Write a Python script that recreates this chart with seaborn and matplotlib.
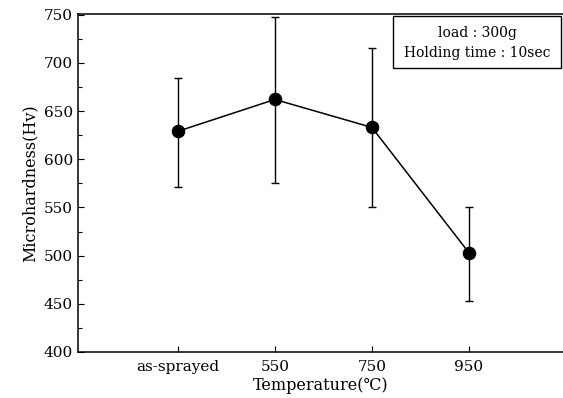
import matplotlib
matplotlib.use("Agg")
import matplotlib.pyplot as plt
import seaborn as sns
import numpy as np
import pandas as pd
from matplotlib.ticker import MultipleLocator
from matplotlib.patches import Rectangle

categories = ["as-sprayed", "550", "750", "950"]
hardness = [629, 662, 633, 503]
upper = [684, 748, 715, 550]
lower = [571, 575, 550, 453]

sns.set_style("ticks")
plt.rcParams['font.family'] = ['DejaVu Serif', 'DejaVu Sans']
plt.rcParams['text.color'] = 'black'
plt.rcParams['axes.labelcolor'] = 'black'

fig = plt.figure(figsize=(5.63, 3.98), dpi=100)
ax = fig.add_axes([0.1385, 0.1156, 0.8615, 0.85])

pos = np.arange(len(categories))
df = pd.DataFrame({"pos": pos, "hv": hardness})
yerr = np.array([np.array(hardness) - np.array(lower), np.array(upper) - np.array(hardness)])
ax.errorbar(pos, hardness, yerr=yerr, fmt='none', ecolor='black', elinewidth=1.0,
            capsize=3, capthick=1.0, zorder=2)
sns.lineplot(data=df, x="pos", y="hv", ax=ax, color='black', linewidth=1.1,
             marker='o', markersize=9, markeredgecolor='black', markerfacecolor='black', zorder=3)

ax.set_xlim(-1.03, 3.97)
ax.set_ylim(400, 751)
ax.set_xticks(pos)
ax.set_xticklabels(categories)
ax.yaxis.set_major_locator(MultipleLocator(50))
ax.yaxis.set_minor_locator(MultipleLocator(25))
ax.tick_params(axis='both', which='both', direction='in', labelsize=11, colors='black')
ax.tick_params(axis='both', which='major', length=4, width=0.8)
ax.tick_params(axis='y', which='minor', length=3, width=0.8)
ax.tick_params(axis='x', pad=6)
for s in ['left', 'bottom', 'top']:
    ax.spines[s].set_linewidth(1.1)
    ax.spines[s].set_color('black')
ax.spines['right'].set_visible(False)

ax.set_xlabel("Temperature(℃)", fontsize=11.5, labelpad=2, color='black')
ax.set_ylabel("Microhardness(Hv)", fontsize=11.5, labelpad=4, color='black')

ax.add_patch(Rectangle((0.649, 0.840), 0.347, 0.152, transform=ax.transAxes,
                       facecolor='white', edgecolor='black', linewidth=1.0, zorder=4))
ax.text(0.824, 0.942, "load : 300g", transform=ax.transAxes,
        ha='center', va='center', fontsize=10, color='black', zorder=5)
ax.text(0.824, 0.885, "Holding time : 10sec", transform=ax.transAxes,
        ha='center', va='center', fontsize=10, color='black', zorder=5)

fig.savefig("out.png", dpi=100)
